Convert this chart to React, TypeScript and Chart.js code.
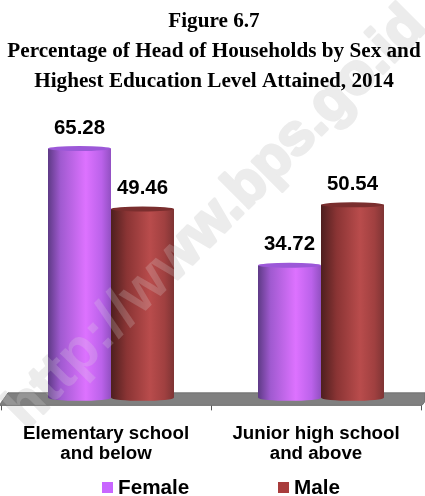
import React, { useEffect, useRef } from "react";
import { Chart, registerables } from "chart.js";

Chart.register(...registerables);

const categories = [["Elementary school", "and below"], ["Junior high school", "and above"]];
const femaleValues = [65.28, 34.72];
const maleValues = [49.46, 50.54];
const titleLines = [
  "Figure 6.7",
  "Percentage of Head of Households by Sex and",
  "Highest Education Level Attained, 2014",
];
const watermarkText = "http://www.bps.go.id";
const femaleStops: [number, string][] = [[0, "#5e3a86"], [0.2, "#a05ad0"], [0.6, "#dd72ff"], [0.85, "#bb62ea"], [1, "#9250c2"]];
const maleStops: [number, string][] = [[0, "#4e1f1f"], [0.25, "#8a3434"], [0.62, "#b94c4c"], [0.85, "#a04040"], [1, "#7e3434"]];
const BAR_SHIFT = 5;

function fill(stops: [number, string][], datasetIndex: number) {
  return (c: any) => {
    const s = c.chart.scales.x;
    if (!s || !c.chart.chartArea) return stops[2][1];
    const w = (s.width / 2) * 0.6 / 2;
    const left = s.getPixelForValue(c.dataIndex) + (datasetIndex - 1) * w;
    const g = c.chart.ctx.createLinearGradient(left, 0, left + w, 0);
    stops.forEach(([p, col]) => g.addColorStop(p, col));
    return g;
  };
}

function watermarkPen(ctx: CanvasRenderingContext2D) {
  ctx.translate(216, 218);
  ctx.rotate(-Math.PI / 4);
  ctx.font = "bold 58px 'Liberation Sans'";
  ctx.textAlign = "center";
  ctx.textBaseline = "middle";
  ctx.lineJoin = "round";
}

const scene = {
  id: "scene",
  afterLayout(chart: any) {
    chart.titleBlock.left += 3;
    chart.titleBlock.right += 3;
  },
  beforeDraw(chart: any) {
    const { ctx, width, height } = chart;
    ctx.save();
    ctx.fillStyle = "#ffffff";
    ctx.fillRect(0, 0, width, height);
    watermarkPen(ctx);
    ctx.fillStyle = "#ececec";
    ctx.strokeStyle = "#ececec";
    ctx.lineWidth = 3;
    ctx.strokeText(watermarkText, 0, 0);
    ctx.fillText(watermarkText, 0, 0);
    ctx.restore();
  },
  beforeDatasetsDraw(chart: any) {
    const { ctx, chartArea } = chart;
    const b = chartArea.bottom;
    ctx.save();
    ctx.beginPath();
    ctx.moveTo(8, b - 12.5);
    ctx.lineTo(425, b - 12.5);
    ctx.lineTo(425, b - 4);
    ctx.lineTo(422, b);
    ctx.lineTo(0, b);
    ctx.lineTo(1, b - 2.5);
    ctx.closePath();
    ctx.fillStyle = "#808080";
    ctx.fill();
    ctx.strokeStyle = "#707070";
    ctx.lineWidth = 1;
    ctx.stroke();
    ctx.restore();
    ctx.save();
    ctx.translate(BAR_SHIFT, 0);
    chart.data.datasets.forEach((_: any, i: number) => {
      chart.getDatasetMeta(i).data.forEach((el: any) => {
        ctx.beginPath();
        ctx.ellipse(el.x, el.base, el.width / 2, 3, 0, 0, Math.PI * 2);
        ctx.fillStyle = el.options.backgroundColor;
        ctx.fill();
      });
    });
  },
  afterDatasetsDraw(chart: any) {
    const { ctx, chartArea } = chart;
    const capColors = ["#9c58d8", "#7a2e2e"];
    chart.data.datasets.forEach((_: any, i: number) => {
      chart.getDatasetMeta(i).data.forEach((el: any) => {
        ctx.beginPath();
        ctx.ellipse(el.x, el.y, el.width / 2, 2.5, 0, 0, Math.PI * 2);
        ctx.fillStyle = capColors[i];
        ctx.fill();
      });
    });
    ctx.restore();

    // The watermark also shows faintly through the bars and the floor.
    ctx.save();
    ctx.beginPath();
    chart.data.datasets.forEach((_: any, i: number) => {
      chart.getDatasetMeta(i).data.forEach((el: any) => {
        ctx.rect(el.x + BAR_SHIFT - el.width / 2, el.y, el.width, el.base - el.y + 3);
      });
    });
    ctx.rect(0, chartArea.bottom - 12.5, 425, 12.5);
    ctx.clip();
    watermarkPen(ctx);
    ctx.fillStyle = "rgba(225,225,225,0.22)";
    ctx.fillText(watermarkText, 0, 0);
    ctx.restore();

    ctx.save();
    ctx.fillStyle = "#000000";
    ctx.font = "bold 20.4px 'Liberation Sans'";
    ctx.textAlign = "center";
    ctx.textBaseline = "middle";
    chart.data.datasets.forEach((ds: any, i: number) => {
      chart.getDatasetMeta(i).data.forEach((el: any, j: number) => {
        ctx.fillText(ds.data[j].toFixed(2), el.x + BAR_SHIFT, el.y - 20.5);
      });
    });
    ctx.font = "bold 20.7px 'Liberation Sans'";
    ctx.textBaseline = "middle";
    ctx.textAlign = "left";
    const legendX = [102, 278];
    const legendColors = ["#c866ff", "#a83c3c"];
    chart.data.datasets.forEach((ds: any, i: number) => {
      ctx.fillStyle = legendColors[i];
      ctx.fillRect(legendX[i], 482, 11, 11);
      ctx.fillStyle = "#000000";
      ctx.fillText(ds.label, legendX[i] + 16, 488);
    });
    ctx.restore();
  },
};

export default function App() {
  const ref = useRef<HTMLCanvasElement>(null);
  useEffect(() => {
    const chart = new Chart(ref.current!, {
      type: "bar",
      data: {
        labels: categories,
        datasets: [
          { label: "Female", data: femaleValues, backgroundColor: fill(femaleStops, 0), borderWidth: 0 },
          { label: "Male", data: maleValues, backgroundColor: fill(maleStops, 1), borderWidth: 0 },
        ],
      },
      options: {
        responsive: false,
        animation: false,
        devicePixelRatio: 1,
        layout: { padding: { left: 1, right: 4, top: 0, bottom: 18.5 } },
        datasets: { bar: { categoryPercentage: 0.6, barPercentage: 1 } },
        scales: {
          x: {
            grid: { drawOnChartArea: false, drawTicks: true, tickLength: 5, color: "#555555", offset: true },
            border: { display: false },
            ticks: {
              color: "#000000",
              maxRotation: 0,
              padding: 13,
              font: { family: "'Liberation Sans'", size: 18.7, weight: "bold", lineHeight: 1.1 },
            },
          },
          y: { display: false, min: -1.96, max: 78 },
        },
        plugins: {
          legend: { display: false },
          tooltip: { enabled: false },
          title: {
            display: true,
            text: titleLines,
            color: "#000000",
            padding: { top: 7, bottom: 3 },
            font: { family: "'Liberation Serif'", size: 21.2, weight: "bold", lineHeight: 1.415 },
          },
        },
      },
      plugins: [scene],
    } as any);
    return () => chart.destroy();
  }, []);
  return (
    <div style={{ position: "absolute", left: 0, top: 0, width: 425, height: 496, overflow: "hidden" }}>
      <canvas ref={ref} width={425} height={496} style={{ display: "block" }} />
    </div>
  );
}
